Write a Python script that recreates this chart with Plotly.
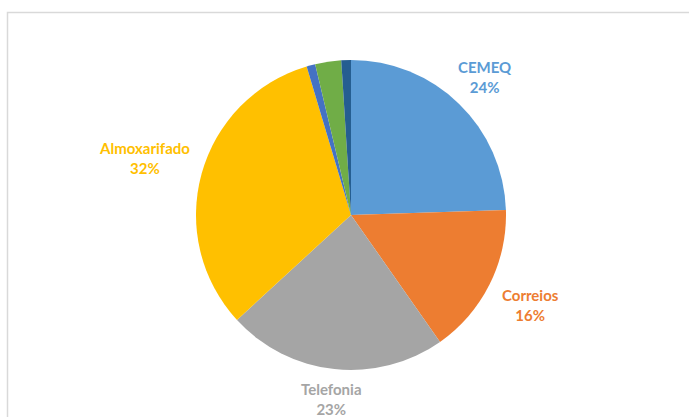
import math
import plotly.graph_objects as go

categories = ["CEMEQ", "Correios", "Telefonia", "Almoxarifado", "Outros 1", "Outros 2", "Outros 3"]
values = [24.4, 15.7, 22.8, 32.1, 0.9, 2.7, 1.0]
pct_labels = ["24%", "16%", "23%", "32%", "", "", ""]
colors = ["#5B9BD5", "#ED7D31", "#A5A5A5", "#FFC000", "#4472C4", "#70AD47", "#255E91"]

W, H = 689, 417
cx, cy, r = 351, 215, 155
FONT = "Lato"
FSIZE = 15

fig = go.Figure(go.Pie(
    labels=categories,
    values=values,
    textinfo="none",
    sort=False,
    direction="clockwise",
    rotation=0,
    marker=dict(colors=colors, line=dict(width=0)),
    showlegend=False,
    automargin=False,
    hoverinfo="label+percent",
    domain=dict(x=[(cx - r) / W, (cx + r) / W], y=[(H - cy - r) / H, (H - cy + r) / H]),
))

# data labels placed outside each slice along its mid-angle (Excel-style)
total = sum(values)
annotations = []
cum = 0.0
for name, v, p, col in zip(categories, values, pct_labels, colors):
    mid = (cum + v / 2) / total
    cum += v
    if not p:
        continue
    th = 2 * math.pi * mid
    dx, dy = math.sin(th), -math.cos(th)
    hw = max(len(name), len(p)) * 7.8 / 2
    hh = 19
    ex = min(hw / abs(dx) if abs(dx) > 1e-6 else 1e9, hh / abs(dy) if abs(dy) > 1e-6 else 1e9)
    dist = r + 11 + ex
    px, py = cx + dist * dx, cy + dist * dy
    annotations.append(dict(
        x=px / W, y=1 - py / H, xref="paper", yref="paper",
        xanchor="center", yanchor="middle", showarrow=False,
        text=f"<b>{name}</b><br><b>{p}</b>", align="center",
        font=dict(family=FONT, size=FSIZE, color=col),
    ))

fig.update_layout(
    width=W, height=H,
    margin=dict(l=0, r=0, t=0, b=0),
    paper_bgcolor="white",
    plot_bgcolor="white",
    font=dict(family=FONT),
    annotations=annotations,
    shapes=[dict(type="rect", xref="paper", yref="paper",
                 x0=7.5 / W, x1=1.05, y0=-0.05, y1=(H - 12.5) / H,
                 line=dict(color="#D9D9D9", width=1.5), fillcolor="rgba(0,0,0,0)")],
)

fig.write_html("out.html", config={"displayModeBar": False},
               post_script="document.body.style.margin='0';")
